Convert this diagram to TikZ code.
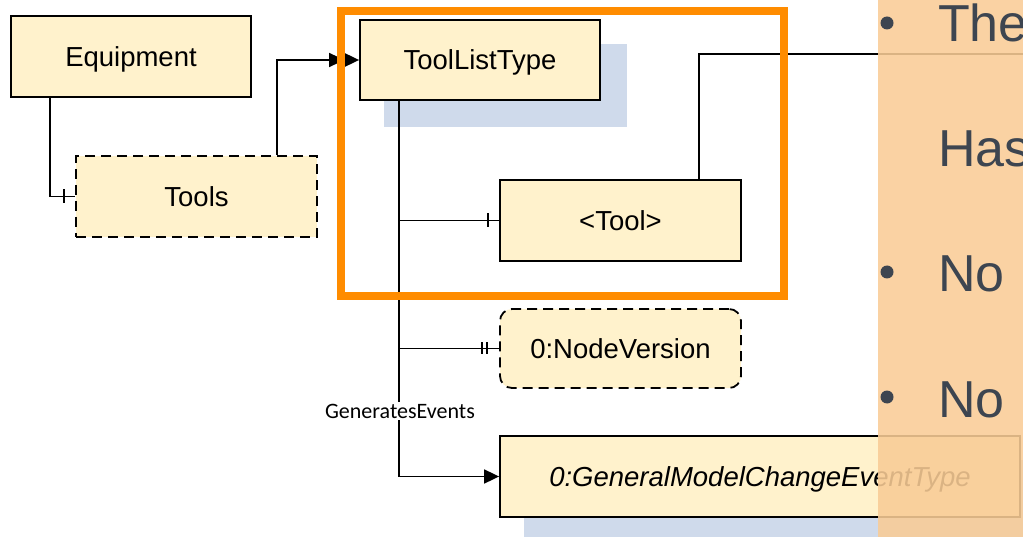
\documentclass[tikz,border=0pt]{standalone}
\usepackage{fontspec}
\setmainfont{Liberation Sans}
\newfontfamily\calfont{Carlito}
\usetikzlibrary{arrows.meta,calc}
\definecolor{boxfill}{RGB}{255,242,204}
\definecolor{shadowc}{RGB}{207,218,235}
\definecolor{hlorange}{RGB}{255,140,0}
\definecolor{panelc}{RGB}{249,204,150}
\definecolor{paneltext}{RGB}{61,69,80}
\tikzset{
  box/.style={draw=black, line width=1.8pt, fill=boxfill, minimum width=241pt,
    minimum height=81pt, inner sep=0pt, text height=19.7pt, text depth=0pt,
    font=\fontsize{27.5}{32}\selectfont},
  optbox/.style={box, dash pattern=on 10pt off 6pt},
  shadowbox/.style={fill=shadowc},
  conn/.style={draw=black, line width=1.8pt},
  tipend/.style={-{Triangle[length=15pt,width=14pt]}},
  dbltip/.style={-{Triangle[length=15pt,width=14pt]Triangle[length=15pt,width=14pt]}},
  panelfont/.style={text=paneltext, inner sep=0pt, anchor=base west,
    font=\fontsize{52}{60}\selectfont},
  bulletdot/.style={fill=paneltext},
  lbl/.style={fill=white, inner sep=1.5pt, font=\calfont\fontsize{22}{26}\selectfont}
}
\begin{document}
\begin{tikzpicture}[x=1pt,y=-1pt]
\useasboundingbox (0,0) rectangle (1023,537);
\clip (0,0) rectangle (1023,537);
% shadows
\fill[shadowbox] (384,44) rectangle (627,127);
\fill[shadowbox] (524,460) rectangle (1044,541);
% boxes
\node[box, minimum width=240pt] (equip) at (131,56.5) {Equipment};
\node[optbox] (tools) at (196.5,196.5) {Tools};
\node[box, minimum width=240pt, minimum height=80pt] (tlt) at (480,60) {ToolListType};
\node[box] (tool) at (620.5,220.5) {<Tool>};
\node[optbox, rounded corners=12pt, minimum height=79pt] (nv) at (620.5,348.5) {0:NodeVersion};
\node[box, minimum width=520pt, font=\fontsize{27.5}{32}\selectfont\itshape] (gmc) at (760,476.5) {0:GeneralModelChangeEventType};
% connectors
\coordinate (trunk) at ($(tlt.south west)+(40,0)$);
\coordinate (eqout) at ($(equip.south west)+(40,0)$);
\coordinate (toolsout) at ($(tools.north east)+(-41,0)$);
\coordinate (toolout) at ($(tool.north west)+(200,0)$);
\coordinate (farend) at (1040,54);
\draw[conn] (eqout) |- (tools.west);
\draw[conn] ($(tools.west)+(-11,-7)$) -- ++(0,14);
\draw[conn, dbltip] (toolsout) |- (tlt.west);
\draw[conn, tipend] (trunk) |- (gmc.west);
\draw[conn] (tool.west -| trunk) -- (tool.west);
\draw[conn] ($(tool.west)+(-11,-7)$) -- ++(0,14);
\draw[conn] (nv.west -| trunk) -- (nv.west);
\draw[conn] ($(nv.west)+(-17,-6)$) -- ++(0,12);
\draw[conn] ($(nv.west)+(-12,-6)$) -- ++(0,12);
\node[lbl] (ge) at (400,411) {GeneratesEvents};
\draw[conn] (toolout) |- (farend);
% highlight frame
\draw[hlorange, line width=8pt] (341,11) rectangle (783.5,296.5);
% right panel
\fill[panelc, opacity=0.88] (878,-5) rectangle (1040,545);
\fill[bulletdot] (887,23) circle (6.5);
\fill[bulletdot] (887,272) circle (6.5);
\fill[bulletdot] (887,397) circle (6.5);
\node[panelfont] (t1) at (938,42) {The};
\node[panelfont] (t2) at (938,167) {Has};
\node[panelfont] (t3) at (938,292) {No};
\node[panelfont] (t4) at (938,417) {No};
\end{tikzpicture}
\end{document}
